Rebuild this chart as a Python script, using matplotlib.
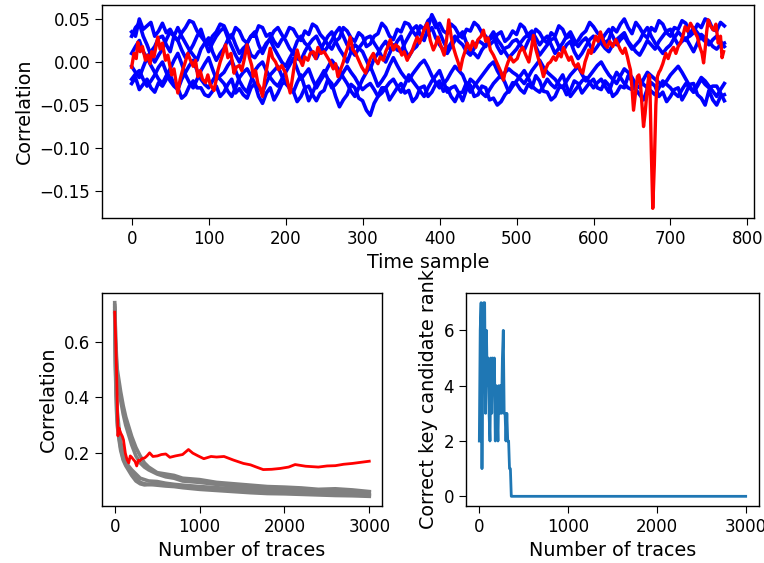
import numpy as np
import matplotlib
matplotlib.use("Agg")
import matplotlib.pyplot as plt

# --- top panel: correlation over time samples ---
time_x = list(range(0, 775, 5))  # 0..770, step 5

blue_1 = [0.035, 0.030, 0.050, 0.038, 0.042, 0.046, 0.030, 0.036, 0.045, 0.034, 0.038, 0.030, 0.025, 0.034, 0.040, 0.048, 0.046, 0.036, 0.030, 0.024,
          0.020, 0.030, 0.035, 0.044, 0.042, 0.032, 0.028, 0.040, 0.036, 0.026, 0.022, 0.030, 0.030, 0.042, 0.040, 0.030, 0.033, 0.024, 0.018, 0.026,
          0.030, 0.040, 0.038, 0.030, 0.025, 0.036, 0.032, 0.044, 0.041, 0.032, 0.027, 0.020, 0.015, 0.024, 0.028, 0.040, 0.036, 0.028, 0.024, 0.034,
          0.030, 0.018, 0.021, 0.030, 0.033, 0.045, 0.040, 0.030, 0.026, 0.038, 0.035, 0.046, 0.044, 0.036, 0.030, 0.042, 0.038, 0.048, 0.052, 0.040,
          0.045, 0.036, 0.033, 0.044, 0.040, 0.032, 0.028, 0.038, 0.036, 0.046, 0.042, 0.034, 0.030, 0.020, 0.024, 0.032, 0.035, 0.024, 0.028, 0.036,
          0.032, 0.044, 0.040, 0.030, 0.027, 0.038, 0.034, 0.026, 0.022, 0.034, 0.030, 0.042, 0.038, 0.028, 0.031, 0.020, 0.025, 0.032, 0.036, 0.046,
          0.041, 0.034, 0.030, 0.022, 0.026, 0.040, 0.035, 0.044, 0.050, 0.040, 0.033, 0.046, 0.040, 0.032, 0.028, 0.040, 0.036, 0.048, 0.044, 0.034,
          0.030, 0.040, 0.038, 0.048, 0.045, 0.030, 0.034, 0.044, 0.040, 0.050, 0.048, 0.038, 0.036, 0.046, 0.042]
blue_2 = [-0.025, -0.018, -0.032, -0.026, -0.020, -0.030, -0.035, -0.024, -0.028, -0.020, -0.015, -0.026, -0.030, -0.042, -0.038, -0.028, -0.022, -0.030, -0.030, -0.038,
          -0.040, -0.034, -0.028, -0.040, -0.035, -0.026, -0.020, -0.036, -0.031, -0.038, -0.042, -0.030, -0.025, -0.040, -0.048, -0.036, -0.030, -0.044, -0.036, -0.026,
          -0.022, -0.030, -0.034, -0.046, -0.040, -0.030, -0.028, -0.038, -0.045, -0.036, -0.033, -0.020, -0.025, -0.040, -0.052, -0.044, -0.038, -0.026, -0.030, -0.042,
          -0.045, -0.056, -0.062, -0.048, -0.040, -0.030, -0.030, -0.044, -0.037, -0.030, -0.025, -0.036, -0.033, -0.046, -0.041, -0.030, -0.028, -0.040, -0.035, -0.026,
          -0.022, -0.034, -0.030, -0.040, -0.046, -0.036, -0.035, -0.024, -0.027, -0.040, -0.038, -0.028, -0.030, -0.044, -0.042, -0.050, -0.046, -0.038, -0.033, -0.024,
          -0.025, -0.032, -0.036, -0.026, -0.030, -0.016, -0.022, -0.034, -0.035, -0.044, -0.040, -0.030, -0.028, -0.038, -0.033, -0.022, -0.025, -0.036, -0.030, -0.024,
          -0.020, -0.030, -0.032, -0.022, -0.027, -0.040, -0.036, -0.028, -0.030, -0.016, -0.022, -0.032, -0.038, -0.044, -0.031, -0.024, -0.028, -0.040, -0.035, -0.046,
          -0.040, -0.032, -0.030, -0.044, -0.036, -0.026, -0.025, -0.038, -0.042, -0.050, -0.033, -0.044, -0.050, -0.040, -0.038]
blue_3 = [0.010, 0.018, 0.025, 0.012, 0.005, 0.012, 0.018, 0.028, 0.030, 0.020, 0.012, 0.030, 0.040, 0.030, 0.022, 0.014, 0.008, 0.002, 0.015, 0.022,
          0.028, 0.012, 0.002, 0.010, 0.016, 0.026, 0.032, 0.020, 0.010, 0.016, 0.020, 0.008, 0.005, 0.012, 0.014, 0.022, 0.026, 0.016, 0.008, 0.000,
          -0.005, 0.004, 0.012, 0.024, 0.030, 0.022, 0.018, 0.010, 0.004, 0.014, 0.022, 0.030, 0.035, 0.024, 0.015, 0.008, 0.000, 0.012, 0.020, 0.016,
          0.012, 0.002, -0.008, 0.004, 0.010, 0.018, 0.024, 0.016, 0.015, 0.024, 0.030, 0.014, 0.006, 0.014, 0.018, 0.026, 0.028, 0.034, 0.040, 0.028,
          0.020, 0.014, 0.010, 0.018, 0.025, 0.030, 0.035, 0.022, 0.012, 0.010, 0.005, 0.014, 0.020, 0.026, 0.030, 0.018, 0.010, 0.016, 0.018, 0.024,
          0.026, 0.020, 0.014, 0.024, 0.032, 0.018, 0.008, 0.014, 0.020, 0.026, 0.028, 0.018, 0.012, 0.020, 0.024, 0.012, 0.004, 0.010, 0.018, 0.026,
          0.030, 0.026, 0.022, 0.016, 0.012, 0.020, 0.026, 0.030, 0.034, 0.024, 0.018, 0.012, 0.008, 0.016, 0.025, 0.020, 0.015, 0.024, 0.030, 0.036,
          0.038, 0.028, 0.020, 0.024, 0.028, 0.020, 0.012, 0.022, 0.032, 0.028, 0.024, 0.018, 0.015, 0.020, 0.022]
blue_4 = [-0.005, -0.012, -0.018, -0.006, 0.005, -0.004, -0.012, -0.020, -0.025, -0.016, -0.008, 0.002, 0.010, -0.002, -0.015, -0.024, -0.030, -0.020, -0.010, -0.002,
          0.005, -0.008, -0.020, -0.016, -0.012, -0.004, 0.002, -0.010, -0.022, -0.030, -0.035, -0.022, -0.010, -0.004, 0.000, -0.010, -0.018, -0.024, -0.028, -0.020,
          -0.012, -0.004, 0.004, -0.008, -0.020, -0.014, -0.008, -0.020, -0.030, -0.022, -0.015, -0.006, 0.002, -0.004, -0.010, -0.018, -0.025, -0.034, -0.040, -0.030,
          -0.020, -0.012, -0.005, -0.016, -0.028, -0.022, -0.015, -0.004, 0.005, -0.004, -0.012, -0.018, -0.022, -0.014, -0.008, -0.002, 0.002, -0.006, -0.016, -0.024,
          -0.030, -0.026, -0.020, -0.012, -0.005, -0.010, -0.015, -0.026, -0.035, -0.028, -0.022, -0.016, -0.010, -0.004, 0.000, -0.010, -0.018, -0.012, -0.008, -0.012,
          -0.015, -0.020, -0.025, -0.018, -0.010, -0.004, 0.002, -0.006, -0.012, -0.016, -0.020, -0.026, -0.030, -0.022, -0.015, -0.010, -0.005, -0.014, -0.022, -0.016,
          -0.010, -0.004, 0.000, -0.008, -0.015, -0.020, -0.025, -0.016, -0.008, -0.012, -0.018, -0.026, -0.030, -0.020, -0.012, -0.016, -0.020, -0.024, -0.028, -0.022,
          -0.015, -0.010, -0.005, -0.012, -0.020, -0.028, -0.035, -0.026, -0.018, -0.022, -0.028, -0.034, -0.040, -0.032, -0.025]
blue_5 = [0.030, 0.040, 0.045, 0.030, 0.020, 0.008, 0.000, 0.008, 0.015, 0.026, 0.035, 0.030, 0.025, 0.014, 0.005, 0.012, 0.020, 0.030, 0.038, 0.024,
          0.012, 0.022, 0.030, 0.036, 0.040, 0.028, 0.018, 0.008, 0.000, 0.010, 0.022, 0.030, 0.035, 0.020, 0.010, 0.020, 0.028, 0.036, 0.040, 0.032,
          0.025, 0.016, 0.010, 0.004, 0.002, 0.012, 0.020, 0.026, 0.030, 0.020, 0.012, 0.018, 0.025, 0.034, 0.040, 0.030, 0.020, 0.014, 0.008, 0.016,
          0.022, 0.028, 0.030, 0.022, 0.015, 0.006, 0.000, 0.010, 0.020, 0.014, 0.012, 0.022, 0.030, 0.038, 0.042, 0.032, 0.025, 0.040, 0.055, 0.046,
          0.035, 0.024, 0.015, 0.022, 0.030, 0.024, 0.020, 0.012, 0.008, 0.016, 0.025, 0.022, 0.018, 0.028, 0.035, 0.026, 0.020, 0.012, 0.005, 0.010,
          0.015, 0.022, 0.028, 0.032, 0.036, 0.028, 0.020, 0.026, 0.030, 0.020, 0.010, 0.016, 0.022, 0.030, 0.035, 0.026, 0.018, 0.024, 0.028, 0.020,
          0.012, 0.018, 0.025, 0.032, 0.038, 0.030, 0.020, 0.026, 0.030, 0.022, 0.015, 0.020, 0.025, 0.034, 0.040, 0.030, 0.022, 0.016, 0.010, 0.016,
          0.020, 0.028, 0.035, 0.030, 0.025, 0.032, 0.040, 0.034, 0.028, 0.024, 0.020, 0.026, 0.030, 0.024, 0.018]
blue_6 = [-0.020, -0.014, -0.010, -0.020, -0.028, -0.022, -0.015, -0.006, 0.000, -0.012, -0.022, -0.028, -0.032, -0.020, -0.012, -0.004, 0.002, -0.010, -0.020, -0.026,
          -0.030, -0.022, -0.015, -0.020, -0.025, -0.034, -0.040, -0.030, -0.018, -0.012, -0.008, -0.016, -0.025, -0.030, -0.035, -0.024, -0.015, -0.010, -0.005, -0.016,
          -0.025, -0.030, -0.035, -0.024, -0.015, -0.030, -0.045, -0.036, -0.025, -0.018, -0.010, -0.020, -0.030, -0.026, -0.020, -0.012, -0.005, -0.012, -0.018, -0.026,
          -0.032, -0.028, -0.025, -0.032, -0.040, -0.036, -0.030, -0.024, -0.020, -0.028, -0.035, -0.026, -0.015, -0.022, -0.028, -0.034, -0.040, -0.030, -0.022, -0.016,
          -0.010, -0.022, -0.035, -0.030, -0.028, -0.036, -0.045, -0.032, -0.020, -0.024, -0.030, -0.036, -0.040, -0.032, -0.025, -0.020, -0.015, -0.024, -0.035, -0.028,
          -0.022, -0.016, -0.010, -0.018, -0.028, -0.032, -0.035, -0.028, -0.020, -0.026, -0.030, -0.022, -0.015, -0.028, -0.040, -0.034, -0.028, -0.022, -0.018, -0.024,
          -0.030, -0.024, -0.020, -0.028, -0.035, -0.022, -0.012, -0.018, -0.025, -0.030, -0.032, -0.026, -0.020, -0.026, -0.030, -0.034, -0.038, -0.030, -0.022, -0.026,
          -0.030, -0.036, -0.040, -0.032, -0.025, -0.030, -0.035, -0.028, -0.020, -0.026, -0.030, -0.028, -0.028, -0.036, -0.045]
blue_traces = [blue_1, blue_2, blue_3, blue_4, blue_5, blue_6]

red_x = [0, 3, 6, 8, 11, 14, 18, 21, 24, 26, 29, 32, 34, 37, 40, 44, 47, 50, 52, 55, 58, 60,
         63, 66, 69, 73, 76, 80, 83, 86, 89, 92, 96, 99, 102, 107, 110, 112, 115, 118, 122,
         125, 129, 133, 136, 140, 143, 146, 150, 153, 156, 158, 161, 164, 167, 170, 173, 176,
         180, 183, 187, 191, 195, 200,
         203, 206, 209, 212, 215, 218, 222, 225, 229, 232, 236, 239, 242, 246, 250, 254, 258,
         262, 265, 268, 271, 275, 278, 281, 284, 287, 291, 295, 299,
         304, 307, 310, 314, 317, 320, 323, 327, 330, 333, 336, 340, 343, 347, 351, 354, 358,
         361, 364, 367, 371, 374, 377, 380, 384, 388, 392, 395, 398,
         402, 406, 409, 412, 415, 418, 421, 424, 427, 430, 433, 436, 440, 443, 447, 450, 454,
         457, 460, 463, 466, 470, 473, 477, 480, 483, 486, 489, 492, 496, 501,
         504, 508, 512, 516, 519, 522, 525, 529, 532, 535, 538, 541, 544, 548, 551, 555, 558,
         561, 564, 568, 571, 574, 577, 580, 583, 586, 589, 592, 594, 597, 600,
         603, 606, 609, 612, 615, 618, 621, 625, 629, 632, 635, 638, 641, 644, 646, 648, 650,
         652, 654, 657, 659, 661, 663, 665, 667, 670, 672, 673, 675, 677, 679, 681, 683, 685,
         687, 690, 694, 697, 700,
         704, 707, 710, 713, 716, 719, 722, 726, 729, 732, 735, 738, 741, 743, 745, 747, 749,
         752, 756, 759, 762, 765, 767, 769]
red_y = [-0.006, 0.010, 0.004, 0.023, 0.012, 0.018, 0.002, 0.008, -0.002, 0.012, 0.006, 0.020,
         0.029, 0.015, 0.022, 0.002, 0.008, -0.006, -0.015, -0.008, -0.025, -0.036,
         -0.020, -0.010, -0.002, 0.010, 0.003, -0.005, 0.002, -0.017, -0.010, -0.020, -0.024,
         -0.015, -0.026, -0.033, -0.020, -0.010, 0.000, 0.008, 0.020,
         0.005, 0.010, -0.013, -0.006, -0.004, -0.010, 0.002, 0.020, 0.005, -0.004, -0.017,
         -0.010, -0.025, -0.030, -0.040, -0.020, -0.005, 0.016, 0.005, 0.000, -0.009, -0.004,
         -0.013,
         -0.025, -0.036, -0.018, 0.000, 0.014, 0.004, -0.004, 0.006, 0.002, 0.010, 0.012, 0.004,
         0.017, 0.010, 0.012, 0.006, 0.000, -0.008, -0.002, -0.017, -0.010, 0.000, 0.010, 0.018,
         0.029, 0.015, 0.010, 0.002, -0.006,
         -0.013, -0.004, 0.004, 0.010, 0.002, -0.002, 0.006, 0.002, 0.012, 0.018, 0.026, 0.014,
         0.020, 0.017, 0.008, 0.012, 0.002, 0.008, 0.012, 0.020, 0.029, 0.022, 0.030, 0.038,
         0.045, 0.025, 0.014, 0.020, 0.029,
         0.018, 0.008, 0.025, 0.049, 0.030, 0.017, 0.008, 0.000, -0.009, 0.004, 0.012, 0.022,
         0.014, 0.024, 0.017, 0.026, 0.030, 0.037, 0.024, 0.028, 0.014, 0.008, 0.002, -0.006,
         -0.012, -0.021, -0.008, 0.000, 0.006, 0.000, 0.004,
         0.012, 0.017, 0.008, 0.000, 0.014, 0.031, 0.015, 0.002, -0.006, -0.017, -0.008, -0.002,
         0.000, 0.006, 0.002, 0.010, 0.006, 0.017, 0.010, 0.002, 0.006, -0.002, -0.006, -0.002,
         -0.010, -0.013, 0.000, 0.008, 0.014, 0.010, 0.022,
         0.030, 0.024, 0.035, 0.026, 0.020, 0.017, 0.024, 0.018, 0.026, 0.020, 0.014, 0.010,
         0.016, 0.006, -0.002, -0.009, -0.030, -0.056, -0.040, -0.017, -0.015, -0.025, -0.050,
         -0.075, -0.060, -0.029, -0.015, -0.017, -0.100, -0.170, -0.120, -0.050, -0.017, -0.012,
         -0.009, -0.002, 0.010, 0.004, 0.012,
         0.017, 0.010, 0.018, 0.022, 0.030, 0.041, 0.036, 0.045, 0.040, 0.034, 0.029, 0.018,
         0.010, -0.001, 0.015, 0.035, 0.049, 0.042, 0.037, 0.044, 0.022, 0.030, 0.005, 0.012]

# --- bottom left: correlation vs number of traces ---
n_x = [0, 10, 20, 30, 50, 70, 100, 130, 160, 200, 250, 300, 350, 400, 500, 600,
       700, 800, 1000, 1200, 1400, 1600, 1800, 2000, 2200, 2400, 2600, 2800, 3000]
gray_1 = [0.74, 0.62, 0.55, 0.50, 0.46, 0.42, 0.37, 0.33, 0.30, 0.26, 0.22, 0.19, 0.165,
          0.15, 0.13, 0.125, 0.12, 0.11, 0.105, 0.095, 0.09, 0.085, 0.08, 0.078, 0.075,
          0.07, 0.072, 0.068, 0.062]
gray_2 = [0.73, 0.60, 0.52, 0.47, 0.43, 0.39, 0.34, 0.30, 0.27, 0.23, 0.19, 0.165, 0.15,
          0.14, 0.125, 0.115, 0.11, 0.10, 0.095, 0.088, 0.082, 0.078, 0.072, 0.07, 0.068,
          0.065, 0.064, 0.06, 0.058]
gray_3 = [0.72, 0.50, 0.40, 0.32, 0.26, 0.22, 0.18, 0.16, 0.15, 0.13, 0.11, 0.095, 0.09,
          0.088, 0.085, 0.082, 0.08, 0.076, 0.07, 0.066, 0.062, 0.058, 0.055, 0.054, 0.052,
          0.05, 0.048, 0.047, 0.045]
gray_4 = [0.70, 0.48, 0.36, 0.30, 0.25, 0.21, 0.175, 0.155, 0.14, 0.12, 0.10, 0.09, 0.086,
          0.087, 0.09, 0.088, 0.085, 0.08, 0.075, 0.07, 0.066, 0.062, 0.06, 0.058, 0.056,
          0.055, 0.052, 0.05, 0.048]
gray_5 = [0.71, 0.52, 0.42, 0.35, 0.29, 0.24, 0.20, 0.17, 0.155, 0.14, 0.125, 0.11, 0.105,
          0.10, 0.098, 0.092, 0.088, 0.085, 0.08, 0.076, 0.072, 0.068, 0.063, 0.06, 0.058,
          0.056, 0.055, 0.053, 0.05]
gray_traces = [gray_1, gray_2, gray_3, gray_4, gray_5]

key_x = [0, 10, 23, 38, 50, 69, 90, 103, 125, 145, 165, 183, 200, 220, 240, 259, 280,
         297, 320, 354, 380, 411, 450, 503, 550, 602, 650, 716, 800, 869, 920, 983,
         1050, 1135, 1200, 1288, 1400, 1517, 1600, 1669, 1750, 1850, 1950, 2050, 2126,
         2250, 2400, 2503, 2600, 2697, 2800, 2900, 3000]
key_y = [0.706, 0.62, 0.478, 0.262, 0.29, 0.273, 0.26, 0.248, 0.20, 0.177, 0.165, 0.19,
         0.185, 0.177, 0.17, 0.154, 0.175, 0.172, 0.18, 0.183, 0.19, 0.201, 0.188, 0.19,
         0.195, 0.197, 0.185, 0.19, 0.195, 0.213, 0.2, 0.19, 0.18, 0.188, 0.186, 0.188,
         0.175, 0.163, 0.158, 0.15, 0.141, 0.142, 0.145, 0.15, 0.159, 0.153, 0.15, 0.154,
         0.155, 0.16, 0.163, 0.167, 0.171]

# --- bottom right: rank of the correct key ---
rank_x = list(range(0, 390, 10)) + [3000]
rank_y = [2, 6, 7, 1, 5, 7, 7, 3, 6, 4, 5, 3, 2, 5, 3, 5, 4, 5, 2, 4, 3, 2, 4, 3, 4,
          3, 5, 6, 3, 3, 2, 3, 2, 2, 1, 1, 0, 0, 0, 0]

plt.rcParams['font.size'] = 12
plt.rcParams['axes.labelsize'] = 13.8
plt.rcParams['axes.linewidth'] = 1.0
plt.rcParams['xtick.major.size'] = 5
plt.rcParams['ytick.major.size'] = 5

W, H = 764, 563
fig = plt.figure(figsize=(W / 100, H / 100), dpi=100)


def px_axes(left, top, right, bottom):
    return fig.add_axes([left / W, 1 - bottom / H, (right - left) / W, (bottom - top) / H])


ax1 = px_axes(102, 5, 754, 218)
for trace in blue_traces:
    ax1.plot(time_x, trace, color='blue', lw=2.6)
ax1.plot(red_x, red_y, color='red', lw=2.4)
ax1.set_xlabel('Time sample')
ax1.set_ylabel('Correlation')

ax2 = px_axes(102, 293, 382, 506)
for trace in gray_traces:
    ax2.plot(n_x, trace, color='grey', lw=2.6)
ax2.plot(key_x, key_y, color='red', lw=2)
ax2.set_xlabel('Number of traces')
ax2.set_ylabel('Correlation')

ax3 = px_axes(466, 293, 759, 506)
ax3.plot(rank_x, rank_y, color='tab:blue', lw=2)
ax3.set_xlabel('Number of traces')
ax3.set_ylabel('Correct key candidate rank')

fig.savefig('out.png', dpi=100)
